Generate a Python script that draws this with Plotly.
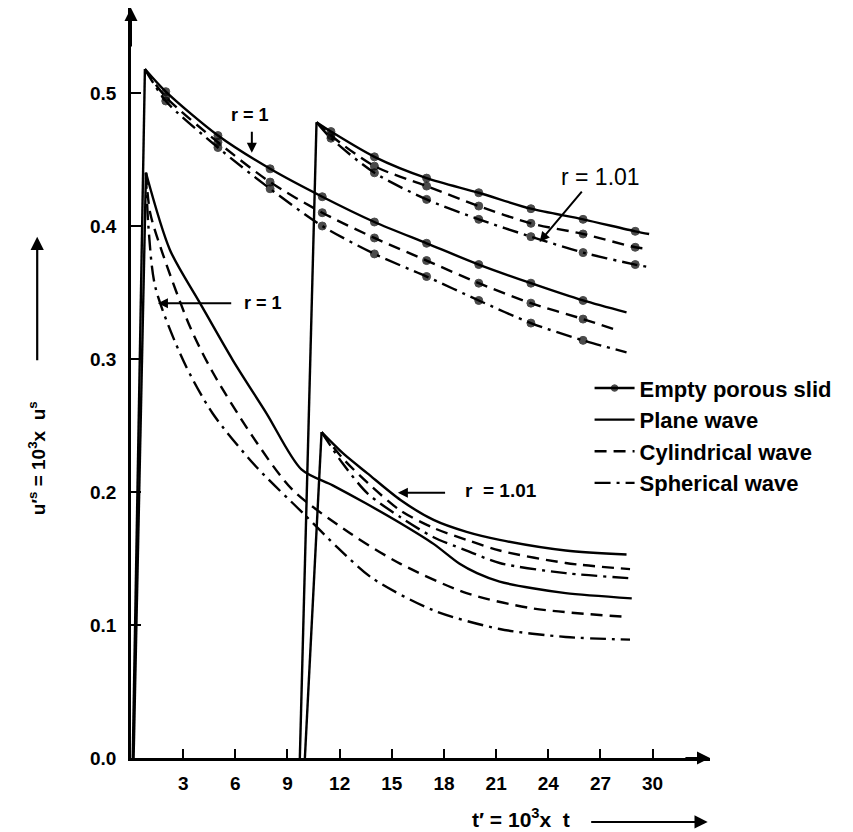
import plotly.graph_objects as go

# ---------------- data ----------------
x_ticks = [3, 6, 9, 12, 15, 18, 21, 24, 27, 30]
y_ticks = [0.0, 0.1, 0.2, 0.3, 0.4, 0.5]
y_tick_labels = ["0.0", "0.1", "0.2", "0.3", "0.4", "0.5"]

# rising fronts (t, value) for each family
rise_up_r1_t, rise_up_r1_y = [0.1, 0.8], [0.0, 0.518]
rise_lo_r1_t, rise_lo_r1_y = [0.15, 0.86], [0.0, 0.44]
rise_up_r101_t, rise_up_r101_y = [9.71, 10.67], [0.0, 0.478]
rise_lo_r101_t, rise_lo_r101_y = [10.0, 10.96], [0.0, 0.245]

# Upper family (empty porous solid, with dots), r = 1
up_r1_plane_t = [0.8, 2, 5, 8, 11, 14, 17, 20, 23, 26, 28.5]
up_r1_plane_y = [0.518, 0.501, 0.468, 0.443, 0.422, 0.403, 0.387, 0.371, 0.357, 0.344, 0.335]
up_r1_cyl_t = [0.8, 2, 5, 8, 11, 14, 17, 20, 23, 26, 28.1]
up_r1_cyl_y = [0.518, 0.497, 0.463, 0.433, 0.410, 0.391, 0.374, 0.357, 0.342, 0.330, 0.321]
up_r1_sph_t = [0.8, 2, 5, 8, 11, 14, 17, 20, 23, 26, 28.5]
up_r1_sph_y = [0.518, 0.494, 0.459, 0.428, 0.400, 0.379, 0.362, 0.344, 0.327, 0.314, 0.305]

# Upper family, r = 1.01
up_r101_plane_t = [10.67, 11.5, 14, 17, 20, 23, 26, 29, 29.8]
up_r101_plane_y = [0.478, 0.471, 0.452, 0.436, 0.425, 0.413, 0.405, 0.396, 0.394]
up_r101_cyl_t = [10.67, 11.5, 14, 17, 20, 23, 26, 29, 29.6]
up_r101_cyl_y = [0.478, 0.468, 0.445, 0.430, 0.415, 0.402, 0.394, 0.384, 0.383]
up_r101_sph_t = [10.67, 11.5, 14, 17, 20, 23, 26, 29, 29.8]
up_r101_sph_y = [0.478, 0.466, 0.440, 0.420, 0.405, 0.392, 0.380, 0.371, 0.369]

# Lower family (no dots), r = 1
lo_r1_plane_t = [0.86, 2.24, 3.97, 5.86, 7.8, 9.8, 11.6, 13.5, 15.5, 17.4, 18.9, 19.9, 21.2, 23.1, 25.0, 28.8]
lo_r1_plane_y = [0.44, 0.382, 0.342, 0.299, 0.259, 0.217, 0.205, 0.1915, 0.1765, 0.161, 0.146, 0.139, 0.1326, 0.1276, 0.124, 0.120]
lo_r1_cyl_t = [0.86, 1.1, 1.8, 3.4, 4.7, 7.0, 9.3, 12.6, 15.5, 19.3, 23.1, 28.6]
lo_r1_cyl_y = [0.44, 0.41, 0.38, 0.324, 0.29, 0.2416, 0.2015, 0.169, 0.146, 0.124, 0.1125, 0.106]
lo_r1_sph_t = [0.86, 1.0, 1.4, 3.0, 4.7, 7.2, 9.9, 11.9, 13.9, 17.4, 21.2, 25.0, 28.7]
lo_r1_sph_y = [0.44, 0.40, 0.354, 0.299, 0.259, 0.219, 0.184, 0.158, 0.135, 0.111, 0.097, 0.091, 0.089]

# Lower family, r = 1.01
lo_r101_plane_t = [10.96, 12.2, 13.6, 15.5, 17.4, 19.3, 21.2, 25.0, 28.5]
lo_r101_plane_y = [0.245, 0.229, 0.214, 0.194, 0.179, 0.170, 0.164, 0.156, 0.153]
lo_r101_cyl_t = [10.96, 12.2, 13.6, 15.5, 17.4, 19.3, 21.2, 25.0, 28.7]
lo_r101_cyl_y = [0.245, 0.225, 0.207, 0.186, 0.173, 0.164, 0.156, 0.1466, 0.142]
lo_r101_sph_t = [10.96, 12.2, 13.6, 15.5, 17.4, 19.3, 21.2, 25.0, 28.9]
lo_r101_sph_y = [0.245, 0.221, 0.199, 0.181, 0.166, 0.156, 0.1466, 0.139, 0.135]

legend_names = ["Empty porous slid", "Plane wave", "Cylindrical wave", "Spherical wave"]

# ---------------- styling ----------------
FONT = "Liberation Sans"
LW = 2.4
DASH = "12px,7px"
DASHDOT = "16px,6px,3px,6px"
X_MAX = 33.3
Y_MAX = 0.5639


def dot_sizes(ys):
    # dots on interior points only (none at the peak or the end)
    return [0 if i in (0, len(ys) - 1) else 8 for i in range(len(ys))]


fig = go.Figure()


def add(t, y, dash, dots, name=None, show=False, shape="spline"):
    fig.add_trace(go.Scatter(
        x=t, y=y,
        mode="lines+markers" if dots else "lines",
        line=dict(color="black", width=LW, dash=dash, shape=shape, smoothing=0.8),
        marker=dict(color="black", size=dot_sizes(y) if dots else 0,
                    line=dict(width=1, color="black")),
        name=name, showlegend=show, hoverinfo="skip",
    ))


# legend carriers first
add(up_r1_plane_t, up_r1_plane_y, "solid", True, legend_names[0], True)
add(lo_r1_plane_t, lo_r1_plane_y, "solid", False, legend_names[1], True)
add(lo_r1_cyl_t, lo_r1_cyl_y, DASH, False, legend_names[2], True)
add(lo_r1_sph_t, lo_r1_sph_y, DASHDOT, False, legend_names[3], True)

add(up_r1_cyl_t, up_r1_cyl_y, DASH, True)
add(up_r1_sph_t, up_r1_sph_y, DASHDOT, True)
add(up_r101_plane_t, up_r101_plane_y, "solid", True)
add(up_r101_cyl_t, up_r101_cyl_y, DASH, True)
add(up_r101_sph_t, up_r101_sph_y, DASHDOT, True)
add(lo_r101_plane_t, lo_r101_plane_y, "solid", False)
add(lo_r101_cyl_t, lo_r101_cyl_y, DASH, False)
add(lo_r101_sph_t, lo_r101_sph_y, DASHDOT, False)

for rt, ry in [(rise_up_r1_t, rise_up_r1_y), (rise_lo_r1_t, rise_lo_r1_y),
               (rise_up_r101_t, rise_up_r101_y), (rise_lo_r101_t, rise_lo_r101_y)]:
    add(rt, ry, "solid", False, shape="linear")

ann = []


def label(text, x, y, size=18, weight="bold"):
    ann.append(dict(x=x, y=y, xref="x", yref="y", text=text, showarrow=False,
                    xanchor="center", yanchor="middle",
                    font=dict(family=FONT, size=size, color="black", weight=weight)))


def arrow(x, y, ax, ay, head=2, size=1.0):
    ann.append(dict(x=x, y=y, ax=ax, ay=ay, xref="x", yref="y", axref="x", ayref="y",
                    text="", showarrow=True, arrowhead=head, arrowsize=size,
                    arrowwidth=2, arrowcolor="black"))


label("r = 1", 6.84, 0.4835)
arrow(6.95, 0.455, 6.95, 0.472)
label("r = 1.01", 27.0, 0.437, size=23, weight="normal")
arrow(23.5, 0.388, 26.0, 0.427)
label("r = 1", 7.6, 0.342)
arrow(1.55, 0.342, 5.85, 0.342)
label("r  = 1.01", 21.3, 0.2015, size=19)
arrow(15.35, 0.1995, 18.15, 0.1995)

# axis arrowheads
arrow(0, Y_MAX, 0, Y_MAX - 0.03, head=2, size=1.3)
arrow(X_MAX, 0, X_MAX - 1.5, 0, head=2, size=1.3)

# axis titles (paper coordinates of the plot area)
ann.append(dict(x=0.673, y=-0.080, xref="paper", yref="paper", showarrow=False,
                xanchor="center", yanchor="middle",
                text="t′ = 10<sup>3</sup>x  t",
                font=dict(family=FONT, size=21, color="black", weight="bold")))
ann.append(dict(x=0.996, y=-0.0853, xref="paper", yref="paper", ax=-118, ay=0,
                text="", showarrow=True, arrowhead=2, arrowsize=1.2,
                arrowwidth=2.2, arrowcolor="black"))
ann.append(dict(x=-0.162, y=0.40, xref="paper", yref="paper", showarrow=False,
                xanchor="center", yanchor="middle",
                text="u′<sup>s</sup> = 10<sup>3</sup>x  u<sup>s</sup>", textangle=-90,
                font=dict(family=FONT, size=19, color="black", weight="bold")))
ann.append(dict(x=-0.162, y=0.695, xref="paper", yref="paper", ax=0, ay=125,
                text="", showarrow=True, arrowhead=2, arrowsize=1.2,
                arrowwidth=2.2, arrowcolor="black"))

fig.update_layout(
    width=853, height=832,
    margin=dict(l=123, r=151, t=0, b=82, pad=0),
    paper_bgcolor="white", plot_bgcolor="white",
    font=dict(family=FONT, color="black", size=18),
    annotations=ann,
    legend=dict(x=0.792, y=0.521, xanchor="left", yanchor="top",
                bgcolor="rgba(0,0,0,0)",
                font=dict(family=FONT, size=22, color="black", weight="bold"),
                itemwidth=40, tracegroupgap=0),
    xaxis=dict(range=[0, X_MAX], showgrid=False, zeroline=False,
               showline=True, linecolor="black", linewidth=2.5,
               tickmode="array", tickvals=x_ticks,
               ticks="inside", ticklen=9, tickwidth=2, tickcolor="black",
               ticklabelstandoff=6,
               tickfont=dict(family=FONT, size=19, color="black", weight="bold")),
    yaxis=dict(range=[0, Y_MAX], showgrid=False, zeroline=False,
               showline=True, linecolor="black", linewidth=2.5,
               tickmode="array", tickvals=y_ticks, ticktext=y_tick_labels,
               ticks="inside", ticklen=10, tickwidth=2, tickcolor="black",
               ticklabelstandoff=8,
               tickfont=dict(family=FONT, size=19, color="black", weight="bold")),
)

fig.write_html("out.html")
